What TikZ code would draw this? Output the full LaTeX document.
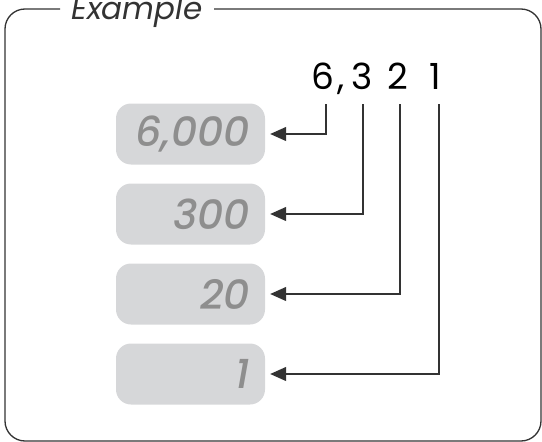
\documentclass[tikz,border=0pt]{standalone}
\usepackage{fontspec}
\setmainfont{Poppins}
\newfontfamily\boxfont{Poppins Medium Italic}
\usetikzlibrary{arrows.meta}
\definecolor{framec}{HTML}{333333}
\definecolor{boxfill}{HTML}{D6D7D9}
\definecolor{boxtext}{HTML}{8E8E8E}
\tikzset{
  valbox/.style={fill=boxfill, rounded corners=15pt, minimum height=61pt,
    text width=119pt, inner xsep=15pt, align=right, text=boxtext,
    font=\fontsize{41}{44}\boxfont},
  digit/.style={font=\fontsize{36}{40}\selectfont, text=black, inner sep=0pt, anchor=base},
  conn/.style={draw=framec, line width=1.2pt, -{Triangle[length=16pt,width=14pt]}, shorten >=5pt}
}
\begin{document}
\begin{tikzpicture}[x=1pt,y=-1pt]
\useasboundingbox (0,0) rectangle (542,442);
\begin{scope}
\clip (0,0) rectangle (542,442);
\draw[framec, line width=1.3pt, rounded corners=20pt]
  (60,9) -- (5,9) -- (5,441) -- (541,441) -- (541,9) -- (214,9);
\node[font=\fontsize{31}{34}\selectfont\itshape, text=framec, anchor=base west, inner sep=0pt] (title) at (71,19) {Example};
\end{scope}
% digits
\node[digit] (d6) at (323,89) {6};
\node[digit] (dc) at (341,89) {,};
\node[digit] (d3) at (362,89) {3};
\node[digit] (d2) at (398,89) {2};
\node[digit] (d1) at (435,89) {1};
\coordinate (t6) at (326,104);
\coordinate (t3) at (363,104);
\coordinate (t2) at (400,104);
\coordinate (t1) at (439,104);
% boxes
\node[valbox] (b1) at (190.5,134) {6,000};
\node[valbox] (b2) at (190.5,214) {300};
\node[valbox] (b3) at (190.5,294) {20};
\node[valbox] (b4) at (190.5,374) {1};
\draw[conn] (t6) |- (b1.east);
\draw[conn] (t3) |- (b2.east);
\draw[conn] (t2) |- (b3.east);
\draw[conn] (t1) |- (b4.east);
\end{tikzpicture}
\end{document}
